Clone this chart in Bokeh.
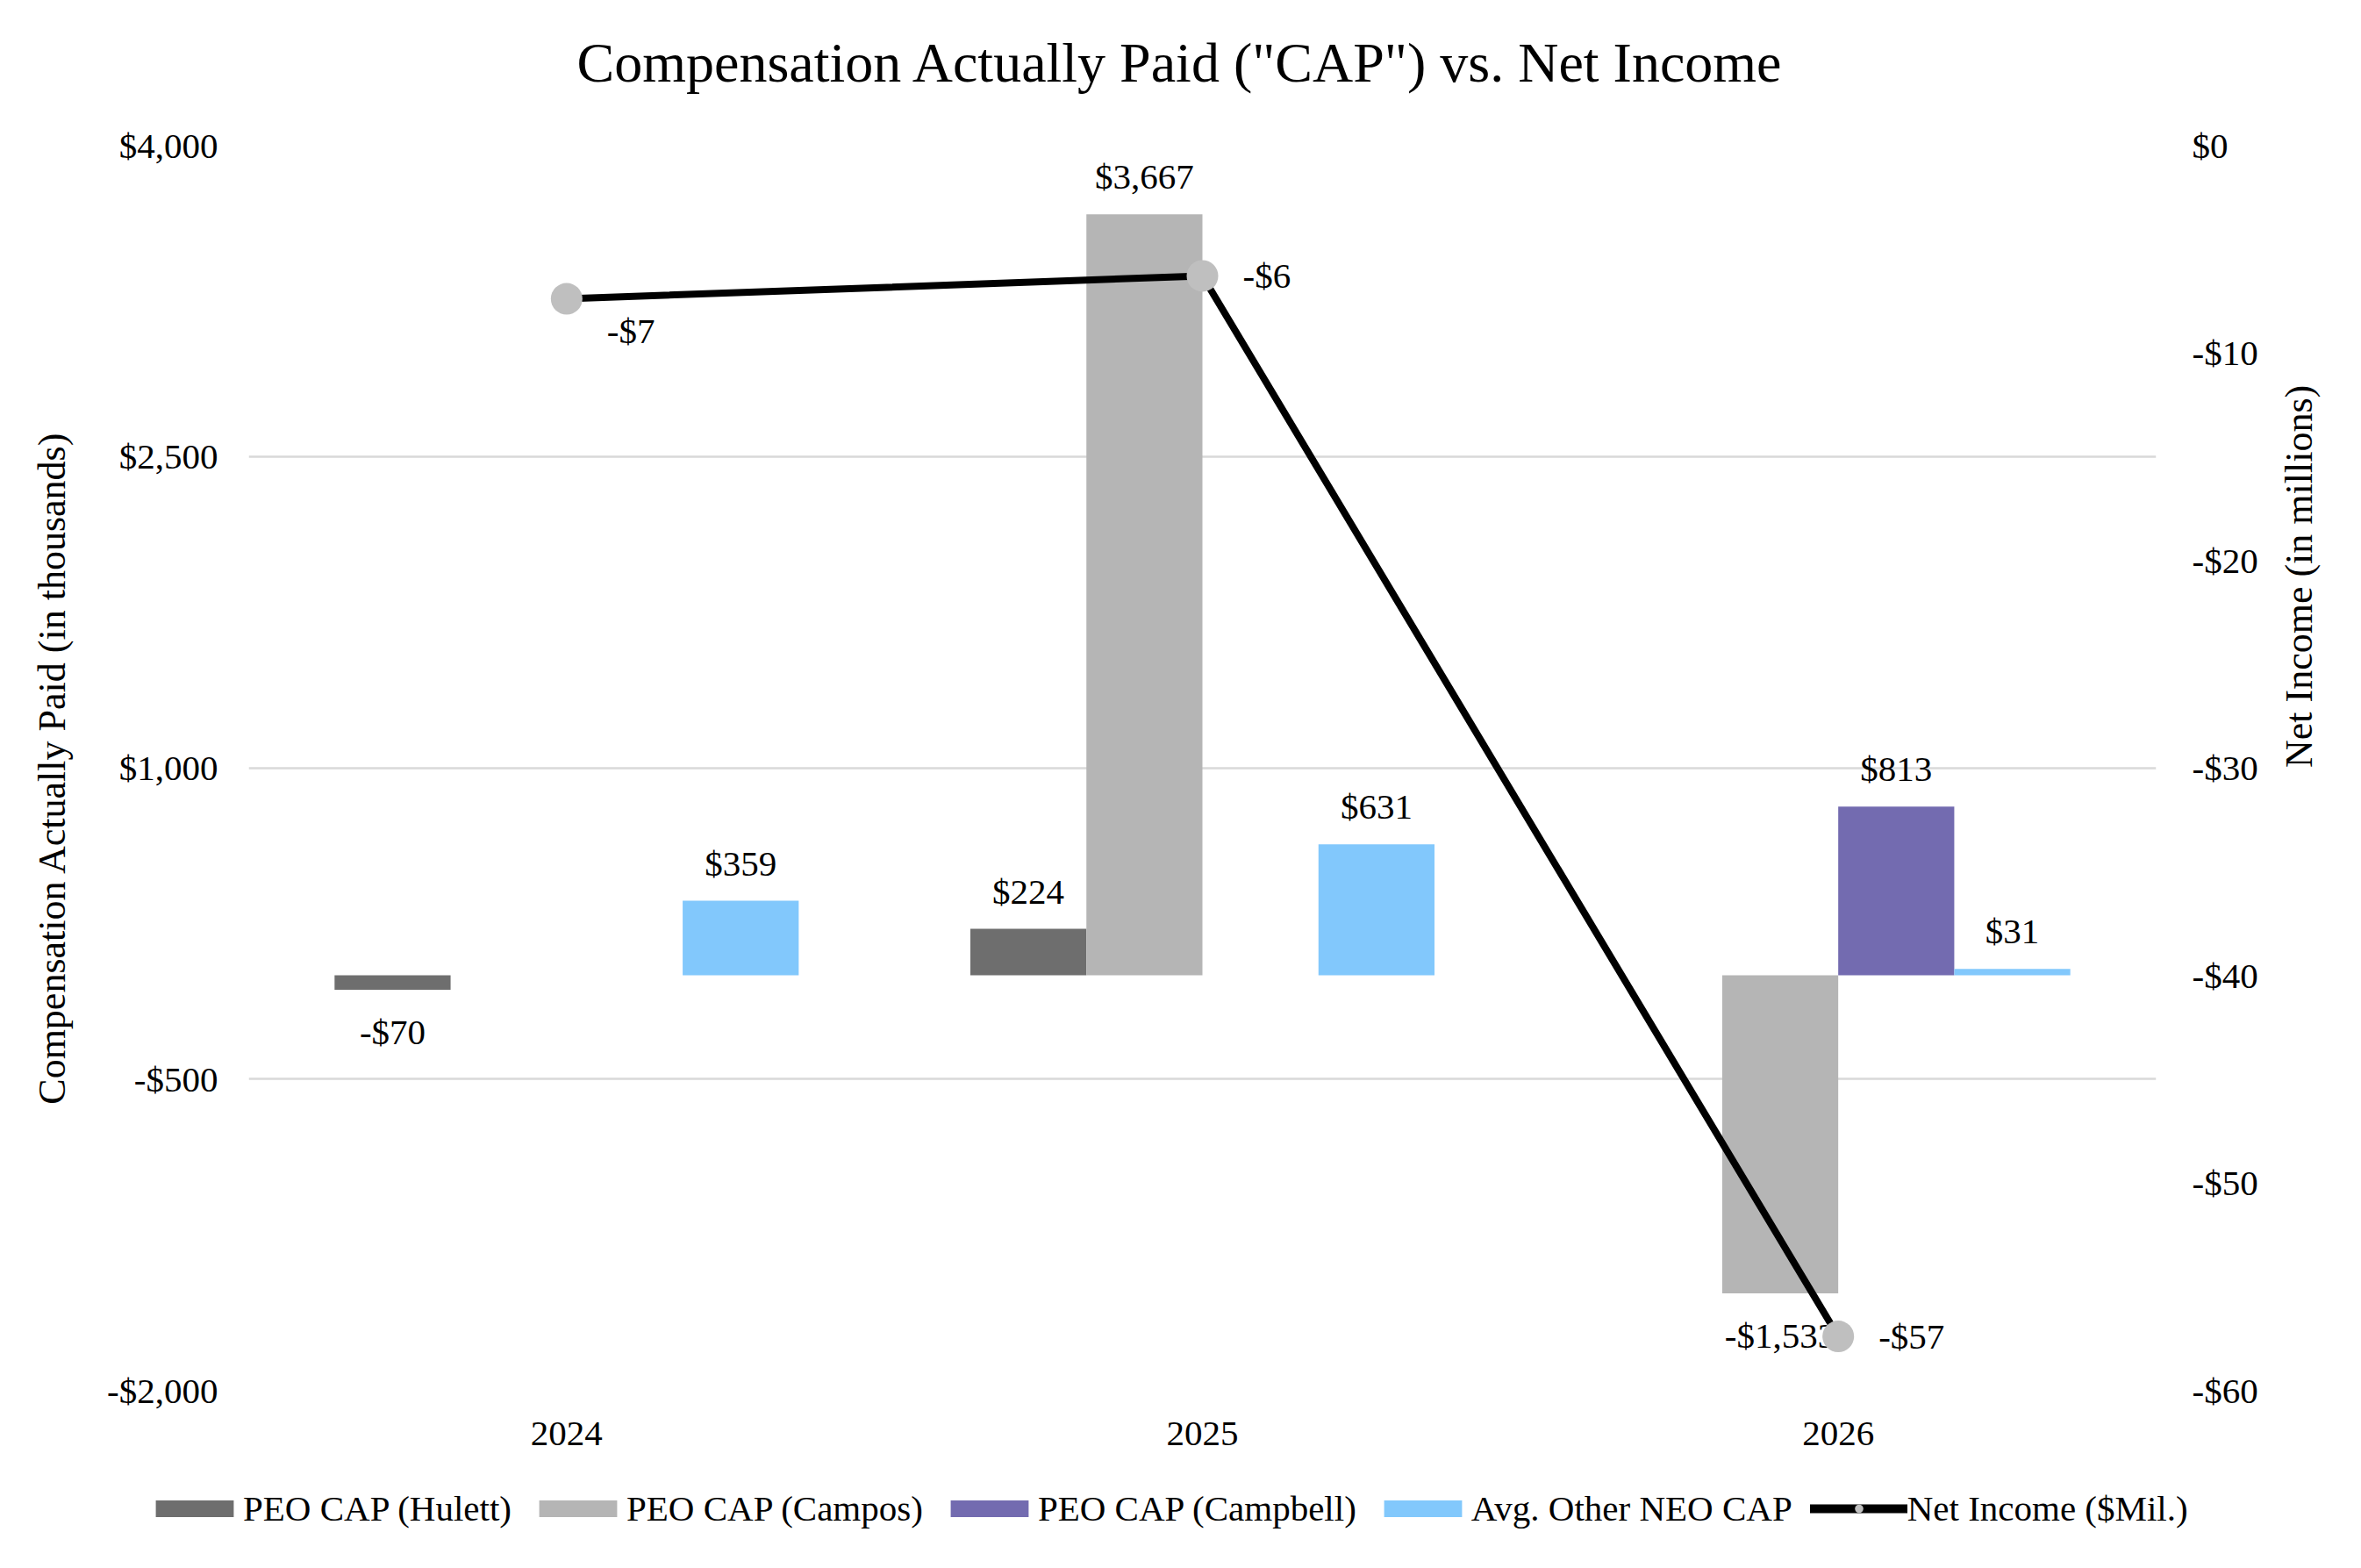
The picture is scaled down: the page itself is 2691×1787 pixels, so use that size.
import math
from bokeh.plotting import figure
from bokeh.models import (FactorRange, Range1d, LinearAxis, FixedTicker, NumeralTickFormatter,
                          ColumnDataSource, Legend, LegendItem, Title)
from bokeh.transform import dodge
from bokeh.core.properties import value
from bokeh.embed import file_html
from bokeh.resources import INLINE

# ---------------- data ----------------
years = ["2024", "2025", "2026"]
peo_hulett = [-70, 224, None]
peo_campos = [None, 3667, -1533]
peo_campbell = [None, None, 813]
avg_neo = [359, 631, 31]
net_income = [-7.4, -6.3, -57.4]

series_names = ["PEO CAP (Hulett)", "PEO CAP (Campos)", "PEO CAP (Campbell)", "Avg. Other NEO CAP"]
series_values = [peo_hulett, peo_campos, peo_campbell, avg_neo]
net_income_name = "Net Income ($Mil.)"
title_text = 'Compensation Actually Paid ("CAP") vs. Net Income'
left_ticks = [-2000, -500, 1000, 2500, 4000]
right_ticks = [-60, -50, -40, -30, -20, -10, 0]

# ---------------- styles ----------------
colors = ["#6E6E6E", "#B5B5B5", "#736BB0", "#82C8FC"]
FONT = "Liberation Serif"
bar_w = 0.1825
offsets = [-1.5 * bar_w, -0.5 * bar_w, 0.5 * bar_w, 1.5 * bar_w]
MAIN_H = 1670
LEG_H = 1787 - MAIN_H


def money(v):
    s = f"${abs(round(v)):,.0f}"
    return "-" + s if v < 0 else s


p = figure(width=2691, height=MAIN_H, x_range=FactorRange(*years), y_range=Range1d(-2000, 4000),
           output_backend="svg", toolbar_location=None,
           min_border_left=283, min_border_right=234, min_border_top=165,
           min_border_bottom=MAIN_H - 1584)
p.extra_y_ranges = {"ni": Range1d(-60, 0)}
p.outline_line_color = None
p.background_fill_color = "white"
p.border_fill_color = "white"

# title: a thin spacer next to the frame, then the real title above it
p.add_layout(Title(text=" ", text_font_size="1px", standoff=56), "above")
p.add_layout(Title(text=title_text, text_font=FONT, text_font_size="64px",
                   text_font_style="normal", text_color="black", align="left",
                   offset=374, standoff=0), "above")

# grid
p.xgrid.grid_line_color = None
p.ygrid.grid_line_color = "#D9D9D9"
p.ygrid.grid_line_width = 2.5
p.ygrid.ticker = FixedTicker(ticks=left_ticks)

# left axis
ya = p.yaxis[0]
ya.ticker = FixedTicker(ticks=left_ticks)
ya.formatter = NumeralTickFormatter(format="$0,0")
ya.axis_label = "Compensation Actually Paid (in thousands)"

# right axis
ra = LinearAxis(y_range_name="ni", ticker=FixedTicker(ticks=right_ticks),
                formatter=NumeralTickFormatter(format="$0,0"),
                axis_label="Net Income (in millions)")
p.add_layout(ra, "right")

for ax in [ya, ra]:
    ax.axis_line_color = None
    ax.major_tick_line_color = None
    ax.minor_tick_line_color = None
    ax.major_label_text_font = FONT
    ax.major_label_text_font_size = "41px"
    ax.major_label_text_color = "black"
    ax.axis_label_text_font = FONT
    ax.axis_label_text_font_size = "44px"
    ax.axis_label_text_font_style = "normal"
    ax.axis_label_text_color = "black"
ya.major_label_standoff = 29
ya.axis_label_standoff = 35
ra.major_label_standoff = 35
ra.axis_label_standoff = 44
ra.axis_label_orientation = math.pi / 2

xa = p.xaxis[0]
xa.axis_line_color = None
xa.major_tick_line_color = None
xa.minor_tick_line_color = None
xa.major_label_text_font = FONT
xa.major_label_text_font_size = "41px"
xa.major_label_text_color = "black"
xa.major_label_standoff = 30

# legend strip (separate root figure below the chart)
pl = figure(width=2691, height=LEG_H, x_range=FactorRange(*years), y_range=Range1d(-2000, 4000),
            output_backend="svg", toolbar_location=None,
            x_axis_location=None, y_axis_location=None,
            min_border_left=0, min_border_right=0, min_border_top=0, min_border_bottom=0)
pl.outline_line_color = None
pl.grid.visible = False
pl.background_fill_color = "white"
pl.border_fill_color = "white"

# bars + labels
legend_items = []
for name, vals, col, off in zip(series_names, series_values, colors, offsets):
    xs = [y for y, v in zip(years, vals) if v is not None]
    vs = [v for v in vals if v is not None]
    src = ColumnDataSource(dict(x=xs, top=vs,
                                label=[money(v) for v in vs],
                                yoff=[-43 if v >= 0 else 48 for v in vs]))
    p.vbar(x=dodge("x", off, range=p.x_range), top="top", bottom=0, width=bar_w,
           source=src, fill_color=col, line_color=None)
    p.text(x=dodge("x", off, range=p.x_range), y="top", text="label", y_offset="yoff",
           source=src, text_font=value(FONT), text_font_size="41px", text_color="black",
           text_align="center", text_baseline="middle")
    proxy = pl.vbar(x="x", top="top", bottom=0, width=bar_w, source=src,
                    fill_color=col, line_color=None, visible=False)
    legend_items.append(LegendItem(label=name, renderers=[proxy]))

# net income line
ni_src = ColumnDataSource(dict(x=years, y=net_income,
                               label=[money(v) for v in net_income],
                               xoff=[46, 46, 46], yoff=[36, 0, 0]))
p.line(x="x", y="y", source=ni_src, y_range_name="ni", line_color="black",
       line_width=8, line_cap="round", line_join="round")
p.scatter(x="x", y="y", source=ni_src, y_range_name="ni", size=36,
          fill_color="#BFBFBF", line_color=None)
p.text(x="x", y="y", text="label", x_offset="xoff", y_offset="yoff", source=ni_src,
       y_range_name="ni", text_font=value(FONT), text_font_size="41px", text_color="black",
       text_align="left", text_baseline="middle")
ln_proxy = pl.line(x="x", y="y", source=ni_src, line_color="black", line_width=10,
                   line_cap="round", visible=False)
mk_proxy = pl.scatter(x="x", y="y", source=ni_src, fill_color="#BFBFBF", line_color=None,
                      visible=False)
legend_items.append(LegendItem(label=net_income_name, renderers=[ln_proxy, mk_proxy]))

legend = Legend(items=legend_items, location=(166, 44), orientation="horizontal",
                label_text_font=FONT, label_text_font_size="41px", label_text_color="black",
                glyph_width=111, glyph_height=24, label_standoff=0, spacing=20,
                padding=0, margin=0, border_line_color=None, background_fill_alpha=0)
pl.add_layout(legend, "center")

open("out.html", "w").write(file_html([p, pl], INLINE))
